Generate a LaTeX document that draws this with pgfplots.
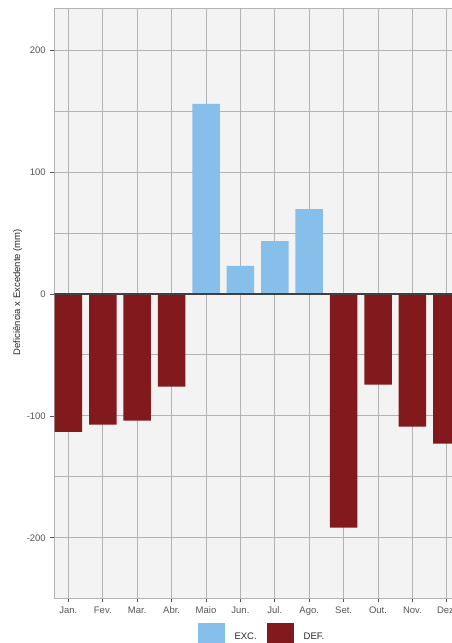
\documentclass[border=0pt]{standalone}
\usepackage{pgfplots}
\pgfplotsset{compat=1.18}
\usepackage{fontspec}
\setmainfont{Liberation Sans}
\definecolor{excc}{RGB}{133,191,234}
\definecolor{defc}{RGB}{130,25,28}
\definecolor{bgc}{RGB}{242,243,242}
\definecolor{gridc}{RGB}{178,178,178}
\definecolor{tickc}{RGB}{85,85,85}
\begin{document}
\begin{tikzpicture}
\useasboundingbox (0,0) rectangle (452bp,643bp);
\begin{axis}[
  overlay,
  at={(54.3bp,44.7bp)}, anchor=south west,
  scale only axis, width=397.7bp, height=590bp,
  xmin=-0.41, xmax=11.15, ymin=-249.6, ymax=234.4,
  axis background/.style={fill=bgc},
  axis line style={draw=gridc, line width=0.8bp},
  xtick={0,...,11},
  xticklabels={Jan.,Fev.,Mar.,Abr.,Maio,Jun.,Jul.,Ago.,Set.,Out.,Nov.,Dez.},
  ytick={-200,-100,0,100,200},
  minor ytick={-150,-50,50,150},
  minor tick length=0pt,
  major tick length=4bp,
  tick align=outside,
  xtick pos=bottom, ytick pos=left,
  tick style={draw=tickc, line width=0.8bp},
  xmajorgrids, ymajorgrids, yminorgrids,
  major grid style={draw=gridc, line width=1bp},
  minor grid style={draw=gridc, line width=1bp},
  ticklabel style={font=\fontsize{9.5bp}{11bp}\selectfont, text=tickc},
  /pgf/number format/assume math mode=true,
  yticklabel style={xshift=-1bp},
  xticklabel style={yshift=-1bp},
  ylabel={Deficiência x Excedente (mm)},
  ylabel style={font=\fontsize{9.5bp}{11bp}\selectfont, text=black!85, at={(axis description cs:-0.092,0.519)}, anchor=center},
  ybar, bar width=27.5bp,
  legend columns=2,
  legend style={draw=none, fill=none, at={(axis description cs:0.522,-0.0588)}, anchor=center,
    font=\fontsize{9.5bp}{11bp}\selectfont, text=black!85,
    /tikz/every odd column/.append style={column sep=8bp},
    /tikz/every even column/.append style={column sep=8bp},
    nodes={inner sep=2bp, yshift=-2bp}},
]
\addplot[fill=excc, draw=none, bar shift=0pt,
  legend image code/.code={\fill[excc] (0bp,-8bp) rectangle (27bp,12bp);}]
  coordinates {(4,155.9) (5,23) (6,43.5) (7,69.7)};
\addplot[fill=defc, draw=none, bar shift=0pt,
  legend image code/.code={\fill[defc] (0bp,-8bp) rectangle (27bp,12bp);}]
  coordinates {(0,-113) (1,-107.2) (2,-103.9) (3,-76) (8,-191.7) (9,-74.4) (10,-108.8) (11,-122.8)};
\legend{EXC.,DEF.}
\draw[draw=black!75, line width=1.2bp] (axis cs:-0.41,0) -- (axis cs:11.15,0);
\end{axis}
\end{tikzpicture}
\end{document}
